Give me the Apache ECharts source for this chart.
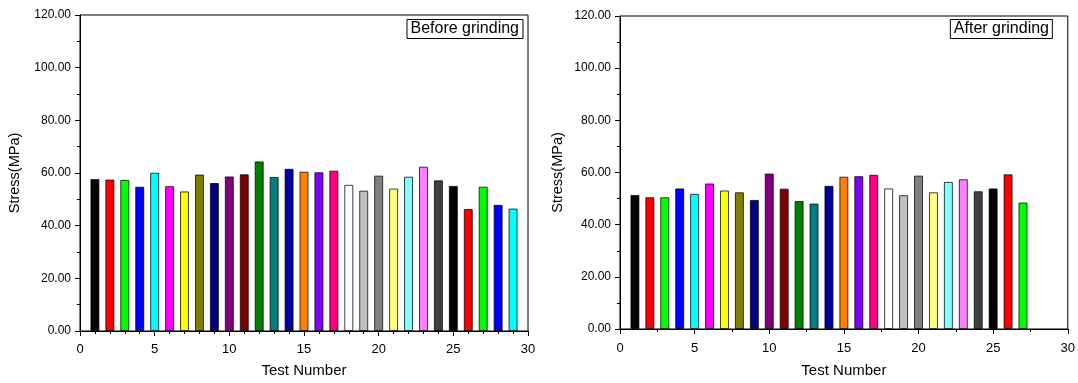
<!DOCTYPE html>
<html>
<head>
<meta charset="utf-8">
<script src="https://cdn.jsdelivr.net/npm/echarts@6/dist/echarts.min.js"></script>
<style>
html,body{margin:0;padding:0;background:#fff;}
#chart{width:1078px;height:383px;}
</style>
</head>
<body>
<div id="chart"></div>
<script>
// Test numbers (x positions) for each panel
const testBefore = [1,2,3,4,5,6,7,8,9,10,11,12,13,14,15,16,17,18,19,20,21,22,23,24,25,26,27,28,29];
const testAfter  = [1,2,3,4,5,6,7,8,9,10,11,12,13,14,15,16,17,18,19,20,21,22,23,24,25,26,27];
// Stress values (MPa)
const stressBefore = [57.7,57.5,57.4,54.8,60.1,55.0,53.0,59.4,56.2,58.7,59.5,64.4,58.5,61.6,60.5,60.3,60.9,55.5,53.3,59.0,54.1,58.6,62.4,57.2,55.1,46.3,54.8,47.9,46.5];
const stressAfter  = [51.4,50.5,50.5,53.9,51.8,55.8,53.1,52.4,49.5,59.6,53.8,49.1,48.1,54.9,58.4,58.6,59.1,53.9,51.3,58.8,52.4,56.4,57.4,52.8,53.9,59.3,48.5];
// Axis ticks
const xTicks = [0,5,10,15,20,25,30];
const yTicks = [0,20,40,60,80,100,120];
const panelTitles = ['Before grinding','After grinding'];

// Origin-like colour cycle
const palette = ['#000000','#FF0000','#00FF00','#0000FF','#00FFFF','#FF00FF','#FFFF00','#808000',
  '#000080','#800080','#800000','#008000','#008080','#0000A0','#FF8000','#8000FF','#FF0080',
  '#FFFFFF','#C0C0C0','#808080','#FFFF80','#80FFFF','#FF80FF','#404040'];

const FONT = '"Liberation Sans", Arial, sans-serif';

function barData(xs, ys){
  return xs.map((x,i)=>({
    value:[x, ys[i]],
    itemStyle:{color: palette[i % palette.length]}
  }));
}

function xAxisCfg(gi, minorSplit, gap, lmargin){
  return {
    type:'value', gridIndex:gi, min:xTicks[0], max:xTicks[xTicks.length-1], interval:5,
    name:'Test Number', nameLocation:'middle', nameGap:gap,
    nameTextStyle:{fontFamily:FONT, fontSize:15, color:'#000'},
    axisLine:{show:true, onZero:false, lineStyle:{color:'#000', width:1}},
    axisTick:{show:true, inside:false, length:5, lineStyle:{color:'#000'}},
    minorTick:{show:true, splitNumber:minorSplit, length:3, lineStyle:{color:'#000'}},
    axisLabel:{fontFamily:FONT, fontSize:13, color:'#000', margin:lmargin},
    splitLine:{show:false}
  };
}
function yAxisCfg(gi, gap){
  return {
    type:'value', gridIndex:gi, min:yTicks[0], max:yTicks[yTicks.length-1], interval:20,
    name:'Stress(MPa)', nameLocation:'middle', nameGap:gap,
    nameTextStyle:{fontFamily:FONT, fontSize:14.5, color:'#000'},
    axisLine:{show:true, lineStyle:{color:'#000', width:1}},
    axisTick:{show:true, inside:false, length:5, lineStyle:{color:'#000'}},
    minorTick:{show:true, splitNumber:2, length:3, lineStyle:{color:'#000'}},
    axisLabel:{fontFamily:FONT, fontSize:12, color:'#000', margin:9,
      formatter:v=>v.toFixed(2)},
    splitLine:{show:false}
  };
}

const chart = echarts.init(document.getElementById('chart'), null, {renderer:'canvas'});
chart.setOption({
  animation:false,
  backgroundColor:'#fff',
  title:[
    {text:panelTitles[0], right:555, top:19,
     borderColor:'#000', borderWidth:1, padding:[2,4,2,4],
     textStyle:{fontFamily:FONT, fontSize:16, fontWeight:'normal', color:'#000'}},
    {text:panelTitles[1], right:25, top:19,
     borderColor:'#000', borderWidth:1, padding:[2,4,2,4],
     textStyle:{fontFamily:FONT, fontSize:16, fontWeight:'normal', color:'#000'}}
  ],
  grid:[
    {left:80, top:15, width:448, height:318, show:true, borderColor:'#000', borderWidth:1, backgroundColor:'transparent'},
    {left:620, top:16, width:451, height:319, show:true, borderColor:'#000', borderWidth:1, backgroundColor:'transparent'}
  ],
  xAxis:[xAxisCfg(0,5,32,12), xAxisCfg(1,2,34,13)],
  yAxis:[yAxisCfg(0,58), yAxisCfg(1,55)],
  series:[
    {type:'bar', xAxisIndex:0, yAxisIndex:0, barWidth:9,
     itemStyle:{borderColor:'rgba(0,0,0,0.75)', borderWidth:1},
     data:barData(testBefore, stressBefore)},
    {type:'bar', xAxisIndex:1, yAxisIndex:1, barWidth:9,
     itemStyle:{borderColor:'rgba(0,0,0,0.75)', borderWidth:1},
     data:barData(testAfter, stressAfter)}
  ]
});
</script>
</body>
</html>
